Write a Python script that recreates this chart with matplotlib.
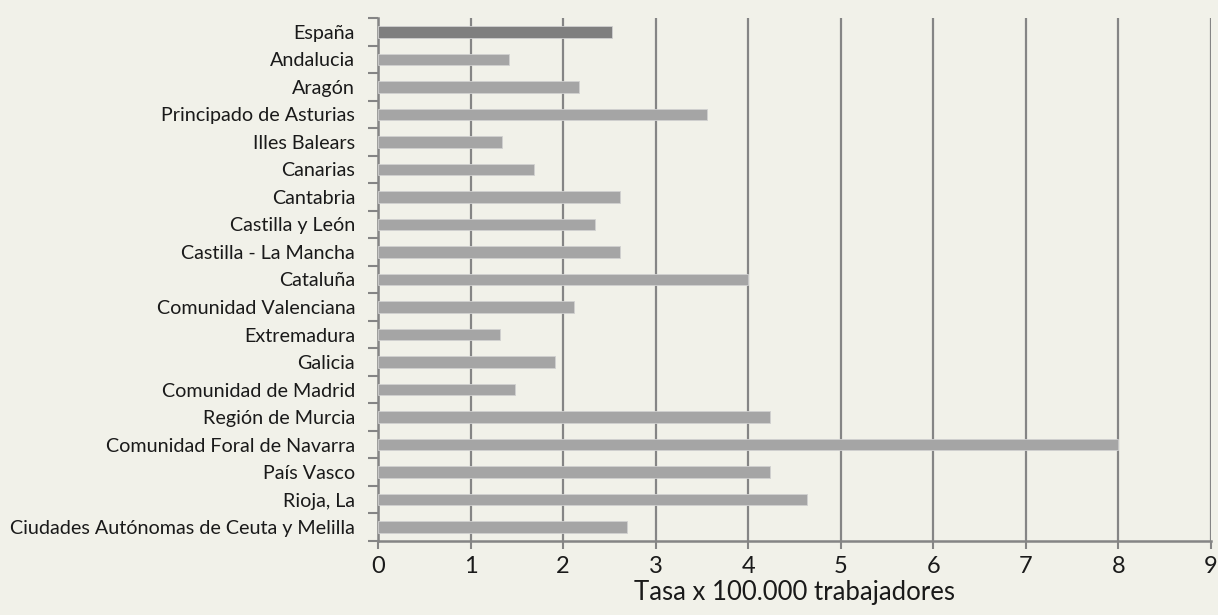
import matplotlib
matplotlib.use("Agg")
import matplotlib.pyplot as plt
import numpy as np

categories = ["España", "Andalucia", "Aragón", "Principado de Asturias", "Illes Balears",
              "Canarias", "Cantabria", "Castilla y León", "Castilla - La Mancha", "Cataluña",
              "Comunidad Valenciana", "Extremadura", "Galicia", "Comunidad de Madrid",
              "Región de Murcia", "Comunidad Foral de Navarra", "País Vasco", "Rioja, La",
              "Ciudades Autónomas de Ceuta y Melilla"]
values = [2.53, 1.42, 2.17, 3.55, 1.34, 1.69, 2.61, 2.34, 2.61, 4.0,
          2.12, 1.32, 1.91, 1.48, 4.23, 8.0, 4.23, 4.63, 2.69]
xticks = [0, 1, 2, 3, 4, 5, 6, 7, 8, 9]
xlabel = "Tasa x 100.000 trabajadores"

plt.rcParams['font.family'] = ['Lato', 'DejaVu Sans']
bg = '#f1f1e9'
grid_c = '#858585'
txt = '#1a1a1a'

fig = plt.figure(figsize=(12.18, 6.15), dpi=100, facecolor=bg)
ax = fig.add_axes([378/1218, 74/615, 833/1218, 523/615], facecolor=bg)

y = np.arange(len(categories))
colors = ['#7f7f7f'] + ['#a5a5a5'] * (len(categories) - 1)
ax.barh(y, values, height=0.42, color=colors, edgecolor='#d0d0d0', linewidth=0.6, zorder=3)

ax.set_xlim(0, 9)
ax.set_ylim(len(categories) - 0.5, -0.5)
ax.set_xticks(xticks)
ax.set_xticklabels([str(t) for t in xticks], fontsize=17, color=txt)
ax.set_yticks(y)
ax.set_yticklabels(categories, fontsize=14.2, color=txt)
ax.set_yticks(np.arange(len(categories) + 1) - 0.5, minor=True)
ax.tick_params(axis='y', which='major', length=0, pad=16.5)
ax.tick_params(axis='y', which='minor', length=7, width=1.5, color=grid_c, direction='out')
ax.tick_params(axis='x', which='major', length=6, width=1.5, color=grid_c, pad=5)

ax.grid(axis='x', color=grid_c, linewidth=1.6, zorder=1)
for s in ['top', 'right']:
    ax.spines[s].set_visible(False)
for s in ['left', 'bottom']:
    ax.spines[s].set_color(grid_c)
    ax.spines[s].set_linewidth(1.8)
ax.set_xlabel(xlabel, fontsize=18.5, color=txt, labelpad=2)

fig.savefig("out.png", dpi=100, facecolor=bg)
